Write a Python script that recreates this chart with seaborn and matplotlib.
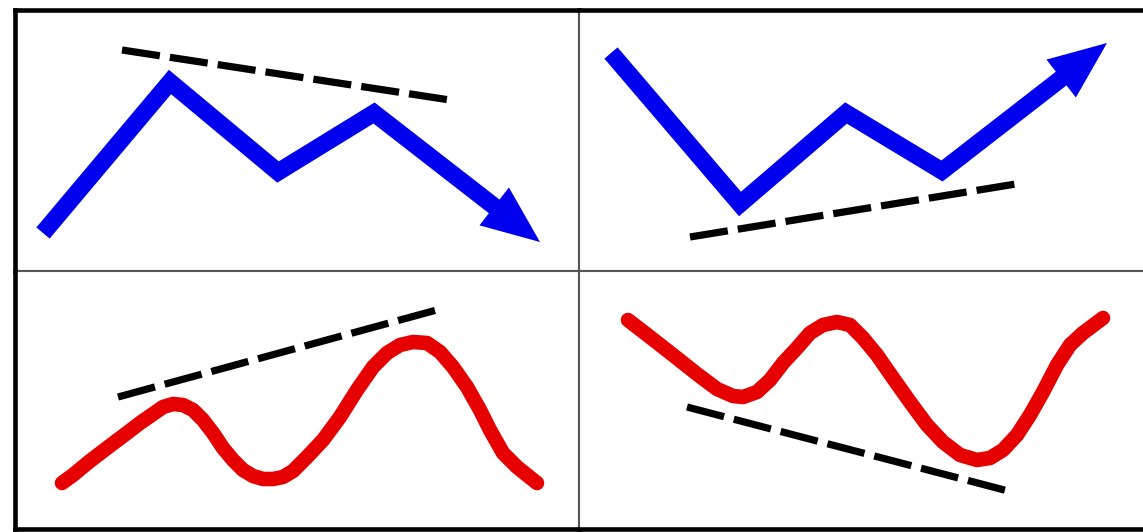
import numpy as np
import matplotlib
matplotlib.use("Agg")
import matplotlib.pyplot as plt
import seaborn as sns

# ==========================================
# DATA (pixel-like coordinates, y grows downward)
# ==========================================
# top-left: bearish divergence, blue price zigzag + falling dashed trend
tl_price_x = [43, 170, 278, 374, 540]
tl_price_y = [233, 82, 172, 113, 242]
tl_trend_x = [122, 450]
tl_trend_y = [50, 100]

# top-right: bullish divergence, blue price zigzag + rising dashed trend
tr_price_x = [611, 740, 846, 942, 1107]
tr_price_y = [53, 204, 113, 171, 43]
tr_trend_x = [690, 1022]
tr_trend_y = [237, 183]

# bottom-left: red oscillator with higher highs
bl_osc_x = [62, 73, 90, 107, 123, 140, 153, 163, 173, 183, 193, 203, 213,
            223, 233, 243, 253, 263, 273, 283, 293, 307, 323, 340, 357, 373,
            387, 400, 413, 427, 440, 453, 467, 480, 490, 503, 517, 537]
bl_osc_y = [483, 475, 461, 448, 436, 423, 414, 407, 404, 405, 410, 420, 433,
            448, 460, 470, 476, 479, 479, 477, 471, 457, 440, 417, 390, 367,
            353, 345, 342, 343, 352, 367, 387, 410, 430, 453, 467, 483]
bl_trend_x = [118, 444]
bl_trend_y = [397, 308]

# bottom-right: red oscillator with lower lows
br_osc_x = [628, 650, 673, 697, 717, 733, 743, 757, 770, 783, 797, 810, 823,
            837, 850, 863, 877, 893, 910, 927, 943, 960, 977, 990, 1003, 1017,
            1030, 1043, 1057, 1070, 1083, 1103]
br_osc_y = [320, 337, 355, 374, 389, 396, 397, 392, 380, 363, 348, 333, 325,
            322, 325, 338, 355, 378, 402, 425, 442, 455, 460, 458, 450, 435,
            415, 392, 365, 345, 333, 318]
br_trend_x = [687, 1012]
br_trend_y = [407, 492]

BLUE = "#0000ee"
RED = "#e60000"
W, H = 1143, 532


def panel(fig, x0, x1, y0, y1):
    ax = fig.add_axes([x0 / W, 1 - y1 / H, (x1 - x0) / W, (y1 - y0) / H])
    ax.set_xlim(x0, x1)
    ax.set_ylim(y1, y0)
    ax.set_xticks([])
    ax.set_yticks([])
    ax.set_facecolor("white")
    for s in ax.spines.values():
        s.set_color("#555555")
        s.set_linewidth(1.5)
    return ax


def dashed(ax, xs, ys):
    sns.lineplot(x=xs, y=ys, ax=ax, sort=False, estimator=None, color="black",
                 lw=5.2, ls=(0, (5.3, 1.4)), dash_capstyle="butt")


def arrow_line(ax, xs, ys, head_len=58, head_w=48):
    xs = np.asarray(xs, float)
    ys = np.asarray(ys, float)
    tip = np.array([xs[-1], ys[-1]])
    prev = np.array([xs[-2], ys[-2]])
    u = (tip - prev) / np.hypot(*(tip - prev))
    n = np.array([-u[1], u[0]])
    base = tip - u * head_len
    stop = base + u * 6
    sns.lineplot(x=list(xs[:-1]) + [stop[0]], y=list(ys[:-1]) + [stop[1]], ax=ax,
                 sort=False, estimator=None, color=BLUE, lw=12.5,
                 solid_capstyle="butt", solid_joinstyle="miter")
    c1 = base + n * head_w / 2
    c2 = base - n * head_w / 2
    ax.fill([tip[0], c1[0], c2[0]], [tip[1], c1[1], c2[1]], color=BLUE, lw=0)


def smooth(ax, xs, ys):
    sns.lineplot(x=xs, y=ys, ax=ax, sort=False, estimator=None, color=RED,
                 lw=10.5, solid_capstyle="round", solid_joinstyle="round")


sns.set_style("white")
fig = plt.figure(figsize=(W / 100, H / 100), dpi=100)
fig.patch.set_facecolor("white")

ax_tl = panel(fig, 15, 579, 10, 271)
ax_tr = panel(fig, 579, W + 2, 10, 271)
ax_bl = panel(fig, 15, 579, 271, 529)
ax_br = panel(fig, 579, W + 2, 271, 529)

arrow_line(ax_tl, tl_price_x, tl_price_y)
dashed(ax_tl, tl_trend_x, tl_trend_y)
arrow_line(ax_tr, tr_price_x, tr_price_y)
dashed(ax_tr, tr_trend_x, tr_trend_y)
smooth(ax_bl, bl_osc_x, bl_osc_y)
dashed(ax_bl, bl_trend_x, bl_trend_y)
smooth(ax_br, br_osc_x, br_osc_y)
dashed(ax_br, br_trend_x, br_trend_y)

# heavy black outer frame, thin grey dividers inside
for ax, sides in [(ax_tl, ["left", "top"]), (ax_tr, ["top"]),
                  (ax_bl, ["left", "bottom"]), (ax_br, ["bottom"])]:
    for side in sides:
        ax.spines[side].set_color("black")
        ax.spines[side].set_linewidth(3.3)
        ax.spines[side].set_zorder(5)
for ax in (ax_tr, ax_br):
    ax.spines["right"].set_visible(False)

fig.savefig("out.png", dpi=100, facecolor="white")
